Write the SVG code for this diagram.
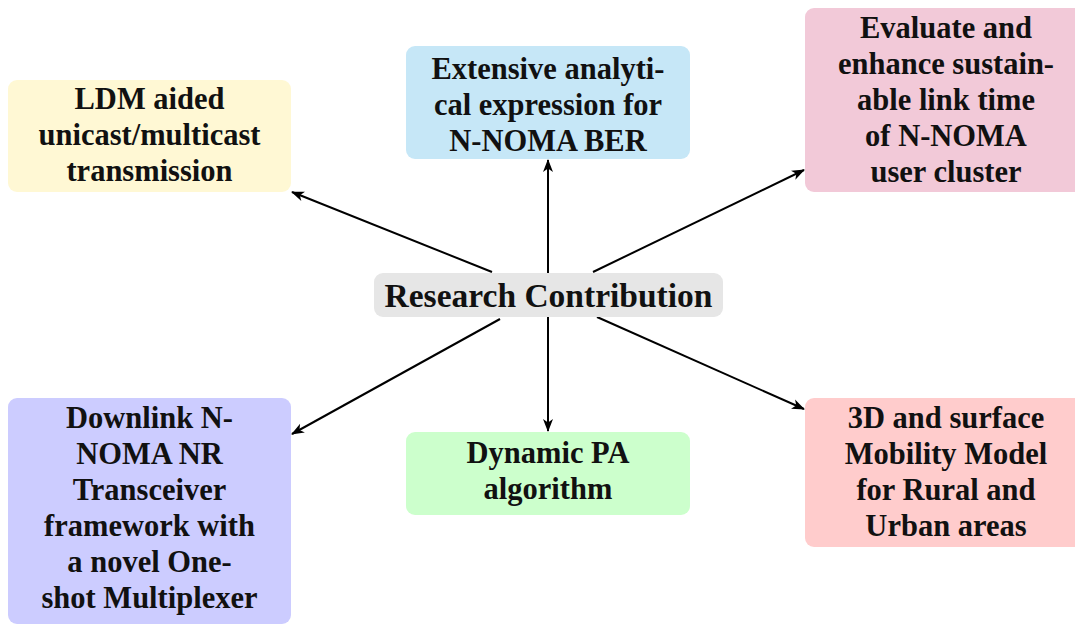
<svg xmlns="http://www.w3.org/2000/svg" width="1075" height="626" viewBox="0 0 1075 626">
  <style>
    .box text { font-family: "Liberation Serif", "Times New Roman", serif; font-weight: bold; font-size: 30.5px; fill: #111; text-anchor: middle; }
    #center text { font-size: 33.5px; }
    .edge { stroke: #000; stroke-width: 2; fill: none; marker-end: url(#stealth); }
  </style>
  <defs>
    <marker id="stealth" markerUnits="userSpaceOnUse" viewBox="-14 -7 16 14" refX="0" refY="0" markerWidth="16" markerHeight="14" orient="auto">
      <path d="M1,0 L-12,-5 L-8.5,0 L-12,5 Z" fill="#000"/>
    </marker>
  </defs>
  <rect width="1075" height="626" fill="#fff"/>

  <!-- connectors from the central node -->
  <g id="connectors">
    <line class="edge" x1="548" y1="273" x2="548" y2="160"/>
    <line class="edge" x1="548" y1="317" x2="548" y2="431"/>
    <line class="edge" x1="492" y1="272" x2="292" y2="192"/>
    <line class="edge" x1="593" y1="272" x2="804" y2="170"/>
    <line class="edge" x1="500" y1="319" x2="292" y2="434"/>
    <line class="edge" x1="597" y1="317" x2="804" y2="409"/>
  </g>

  <g id="center" class="box">
    <rect x="374" y="273" width="349" height="44" rx="9" fill="#e6e6e6"/>
    <text x="548.5" y="307">Research Contribution</text>
  </g>

  <g id="ldm" class="box">
    <rect x="8" y="80" width="283" height="112" rx="9" fill="#fff8d4"/>
    <text x="149.5" y="109">LDM aided</text>
    <text x="149.5" y="145">unicast/multicast</text>
    <text x="149.5" y="181">transmission</text>
  </g>

  <g id="ber" class="box">
    <rect x="406" y="46" width="284" height="113" rx="9" fill="#c6e7f7"/>
    <text x="548" y="79">Extensive analyti-</text>
    <text x="548" y="115">cal expression for</text>
    <text x="548" y="151">N-NOMA BER</text>
  </g>

  <g id="linktime" class="box">
    <rect x="805" y="8" width="282" height="184" rx="9" fill="#f2c9d8"/>
    <text x="946" y="38">Evaluate and</text>
    <text x="946" y="74">enhance sustain-</text>
    <text x="946" y="110">able link time</text>
    <text x="946" y="146">of N-NOMA</text>
    <text x="946" y="182">user cluster</text>
  </g>

  <g id="transceiver" class="box">
    <rect x="8" y="398" width="283" height="226" rx="9" fill="#ccccff"/>
    <text x="149.5" y="428">Downlink N-</text>
    <text x="149.5" y="464">NOMA NR</text>
    <text x="149.5" y="500">Transceiver</text>
    <text x="149.5" y="536">framework with</text>
    <text x="149.5" y="572">a novel One-</text>
    <text x="149.5" y="608">shot Multiplexer</text>
  </g>

  <g id="pa" class="box">
    <rect x="406" y="432" width="284" height="83" rx="9" fill="#ccffcc"/>
    <text x="548" y="463">Dynamic PA</text>
    <text x="548" y="499">algorithm</text>
  </g>

  <g id="mobility" class="box">
    <rect x="805" y="398" width="282" height="149" rx="9" fill="#ffcccc"/>
    <text x="946" y="428">3D and surface</text>
    <text x="946" y="464">Mobility Model</text>
    <text x="946" y="500">for Rural and</text>
    <text x="946" y="536">Urban areas</text>
  </g>
</svg>
